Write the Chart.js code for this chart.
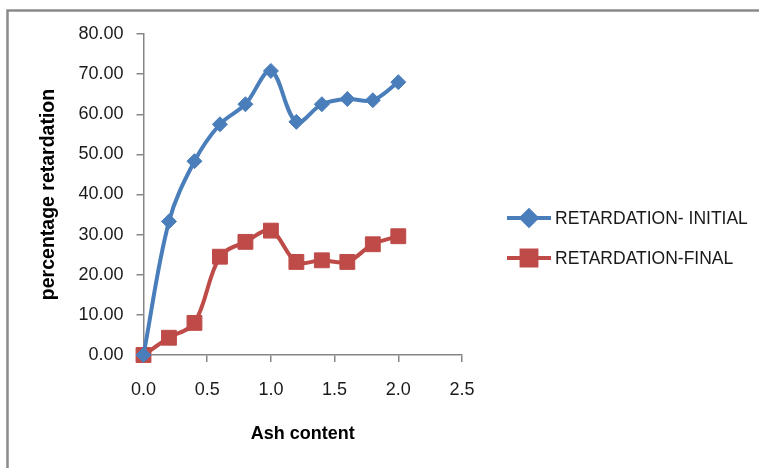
<!DOCTYPE html>
<html>
<head>
<meta charset="utf-8">
<script src="https://cdn.jsdelivr.net/npm/chart.js@4/dist/chart.umd.min.js"></script>
<style>
  html, body { margin: 0; padding: 0; background: #ffffff; }
  #wrap { width: 759px; height: 468px; }
</style>
</head>
<body>
<div id="wrap"><canvas id="chart" width="759" height="468"></canvas></div>
<script>
// Ash content (x) and percentage retardation readings
const ashContent = [0.0, 0.2, 0.4, 0.6, 0.8, 1.0, 1.2, 1.4, 1.6, 1.8, 2.0];
const retardationInitial = [0.0, 33.3, 48.3, 57.5, 62.5, 70.8, 58.1, 62.5, 63.8, 63.5, 68.0];
const retardationFinal = [0.0, 4.3, 8.0, 24.5, 28.2, 31.0, 23.2, 23.6, 23.2, 27.6, 29.6];
const seriesNames = ['RETARDATION- INITIAL', 'RETARDATION-FINAL'];
const xTickLabels = ['0.0', '0.5', '1.0', '1.5', '2.0', '2.5'];
const yTickLabels = ['0.00', '10.00', '20.00', '30.00', '40.00', '50.00', '60.00', '70.00', '80.00'];

const BLUE = '#4a7ebb';
const RED = '#be4b48';
const AXIS = '#868686';
const FONT = "'Liberation Sans', Arial, sans-serif";

const toPoints = (ys) => ashContent.map((x, i) => ({ x: x, y: ys[i] }));

// outer frame round the chart
const framePlugin = {
  id: 'frame',
  beforeDraw(chart) {
    const ctx = chart.ctx;
    ctx.save();
    ctx.fillStyle = '#ffffff';
    ctx.fillRect(0, 0, chart.width, chart.height);
    ctx.strokeStyle = '#8a8a8a';
    ctx.lineWidth = 2.5;
    ctx.strokeRect(7.5, 10.5, 820, 520);
    ctx.restore();
  }
};

// legend on the right: line with marker, then series name
const sideLegend = {
  id: 'sideLegend',
  afterDraw(chart) {
    const ctx = chart.ctx;
    const rows = [
      { y: 218, color: BLUE, style: 'rectRot', radius: 7.5, name: seriesNames[0] },
      { y: 258, color: RED, style: 'rect', radius: 10.5, name: seriesNames[1] }
    ];
    ctx.save();
    rows.forEach(r => {
      ctx.strokeStyle = r.color;
      ctx.lineWidth = 4;
      ctx.beginPath();
      ctx.moveTo(507, r.y);
      ctx.lineTo(551, r.y);
      ctx.stroke();
      ctx.fillStyle = r.color;
      Chart.helpers.drawPoint(ctx, {
        pointStyle: r.style, radius: r.radius, borderWidth: 1, rotation: 0
      }, 529, r.y);
      ctx.fill();
      ctx.fillStyle = '#1a1a1a';
      ctx.font = '17.5px ' + FONT;
      ctx.textBaseline = 'middle';
      ctx.textAlign = 'left';
      ctx.fillText(r.name, 555, r.y + 1);
    });
    ctx.restore();
  }
};

new Chart(document.getElementById('chart'), {
  type: 'scatter',
  data: {
    datasets: [
      {
        label: seriesNames[0],
        data: toPoints(retardationInitial),
        showLine: true,
        borderColor: BLUE,
        backgroundColor: BLUE,
        borderWidth: 4,
        tension: 0.35,
        pointStyle: 'rectRot',
        pointRadius: 7.5,
        pointHoverRadius: 7.5,
        pointBorderWidth: 1,
        clip: false
      },
      {
        label: seriesNames[1],
        data: toPoints(retardationFinal),
        showLine: true,
        borderColor: RED,
        backgroundColor: RED,
        borderWidth: 4,
        tension: 0.35,
        pointStyle: 'rect',
        pointRadius: 10.5,
        pointHoverRadius: 10.5,
        pointBorderWidth: 1,
        clip: false
      }
    ]
  },
  options: {
    responsive: false,
    animation: false,
    devicePixelRatio: 1,
    layout: { padding: { left: 0, top: 34, right: 297, bottom: 0 } },
    plugins: {
      legend: { display: false },
      tooltip: { enabled: false }
    },
    scales: {
      x: {
        type: 'linear',
        min: 0,
        max: 2.5,
        afterFit(scale) { scale.height = 113; },
        afterBuildTicks(scale) {
          scale.ticks = xTickLabels.map(v => ({ value: parseFloat(v) }));
        },
        ticks: {
          callback: (v) => xTickLabels.find(t => parseFloat(t) === v) || '',
          color: '#1a1a1a',
          font: { family: FONT, size: 18 },
          padding: 17,
          maxRotation: 0
        },
        grid: { drawOnChartArea: false, drawTicks: true, tickLength: 7, color: AXIS, lineWidth: 1.5 },
        border: { color: AXIS, width: 1.5 },
        title: {
          display: true,
          text: 'Ash content',
          color: '#000000',
          font: { family: FONT, size: 18, weight: 'bold' },
          padding: { top: 0, bottom: 23 }
        }
      },
      y: {
        type: 'linear',
        min: 0,
        max: 80,
        afterFit(scale) { scale.width = 143.5; },
        afterBuildTicks(scale) {
          scale.ticks = yTickLabels.map(v => ({ value: parseFloat(v) }));
        },
        ticks: {
          callback: (v) => yTickLabels.find(t => parseFloat(t) === v) || '',
          color: '#1a1a1a',
          font: { family: FONT, size: 18 },
          padding: 13
        },
        grid: { drawOnChartArea: false, drawTicks: true, tickLength: 7, color: AXIS, lineWidth: 1.5 },
        border: { color: AXIS, width: 1.5 },
        title: {
          display: true,
          text: 'percentage retardation',
          color: '#000000',
          font: { family: FONT, size: 19.5, weight: 'bold' },
          padding: { top: 37, bottom: 0 }
        }
      }
    }
  },
  plugins: [framePlugin, sideLegend]
});
</script>
</body>
</html>
